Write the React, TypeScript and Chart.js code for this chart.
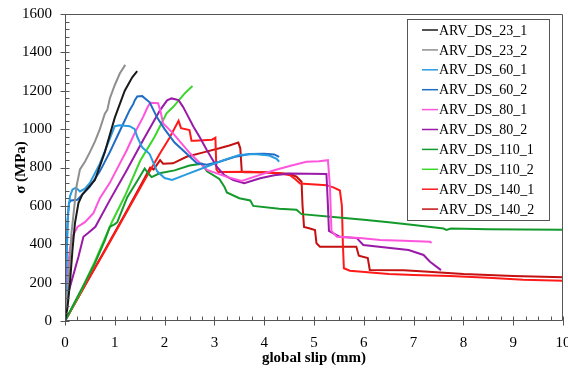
import React, { useEffect, useRef } from "react";
import { Chart, registerables } from "chart.js";

Chart.register(...registerables);

const seriesNames = [
  "ARV_DS_23_1", "ARV_DS_23_2", "ARV_DS_60_1", "ARV_DS_60_2", "ARV_DS_80_1",
  "ARV_DS_80_2", "ARV_DS_110_1", "ARV_DS_110_2", "ARV_DS_140_1", "ARV_DS_140_2",
];
const seriesColors = [
  "#1a1a1a", "#8f8f8f", "#2a9be0", "#1f6cc4", "#ff55dd",
  "#9a1aa8", "#149a2c", "#3cd62a", "#ff1a1a", "#c41010",
];

const xTicks = [0, 1, 2, 3, 4, 5, 6, 7, 8, 9, 10];
const yTicks = [0, 200, 400, 600, 800, 1000, 1200, 1400, 1600];

const slip23_1 = [0, 0.05, 0.1, 0.15, 0.2, 0.27, 0.35, 0.45, 0.6, 0.8, 1.0, 1.2, 1.35, 1.45];
const stress23_1 = [0, 70, 200, 370, 510, 615, 660, 690, 735, 880, 1060, 1200, 1270, 1302];

const slip23_2 = [0, 0.04, 0.07, 0.13, 0.23, 0.3, 0.4, 0.5, 0.6, 0.7, 0.8, 0.85, 0.9, 1.0, 1.1, 1.21];
const stress23_2 = [0, 120, 200, 458, 700, 790, 830, 880, 935, 1000, 1080, 1100, 1160, 1230, 1290, 1335];

const slip60_1 = [0, 0.03, 0.06, 0.1, 0.15, 0.22, 0.3, 0.4, 0.5, 0.7, 0.9, 1.0, 1.1, 1.3, 1.4, 1.45, 1.55, 1.7, 1.85, 2.0, 2.15, 2.4, 2.8, 3.2, 3.5, 3.8, 4.1, 4.25, 4.3];
const stress60_1 = [0, 300, 560, 650, 685, 695, 675, 690, 720, 820, 950, 1015, 1020, 1015, 1000, 960, 905, 870, 780, 745, 735, 760, 800, 840, 865, 870, 862, 845, 830];

const slip60_2 = [0, 0.02, 0.05, 0.08, 0.12, 0.25, 0.35, 0.5, 0.7, 0.9, 1.1, 1.3, 1.37, 1.4, 1.45, 1.55, 1.7, 1.85, 2.0, 2.2, 2.45, 2.65, 2.85, 3.1, 3.4, 3.7, 4.0, 4.2, 4.3];
const stress60_2 = [0, 250, 520, 615, 628, 632, 660, 700, 780, 880, 990, 1100, 1130, 1150, 1170, 1172, 1140, 1060, 1000, 930, 870, 822, 815, 830, 855, 870, 872, 868, 855];

const slip80_1 = [0, 0.05, 0.1, 0.15, 0.25, 0.4, 0.57, 0.7, 0.9, 1.1, 1.24, 1.4, 1.57, 1.65, 1.71, 1.87, 1.92, 1.97, 2.17, 2.51, 2.85, 3.25, 3.55, 3.9, 4.2, 4.55, 4.85, 5.1, 5.28, 5.32, 5.35, 5.46, 5.92, 6.33, 6.8, 7.33, 7.36];
const stress80_1 = [0, 250, 380, 440, 490, 515, 562, 640, 720, 820, 890, 980, 1064, 1110, 1137, 1135, 1090, 1030, 978, 874, 787, 751, 730, 760, 786, 810, 830, 832, 838, 700, 470, 439, 432, 422, 418, 413, 406];

const slip80_2 = [0, 0.07, 0.27, 0.37, 0.47, 0.61, 0.9, 1.24, 1.57, 1.91, 2.05, 2.14, 2.28, 2.37, 2.44, 2.58, 2.7, 2.85, 3.05, 3.2, 3.38, 3.6, 3.92, 4.2, 4.52, 5.25, 5.28, 5.3, 5.4, 5.52, 5.86, 5.99, 6.53, 6.9, 7.2, 7.33, 7.55];
const stress80_2 = [0, 150, 335, 439, 460, 491, 630, 786, 943, 1099, 1150, 1160, 1151, 1116, 1082, 1012, 960, 890, 803, 760, 734, 718, 744, 760, 769, 766, 600, 470, 455, 439, 432, 396, 380, 370, 344, 309, 265];

const slip110_1 = [0, 0.2, 0.4, 0.6, 0.8, 0.9, 1.0, 1.05, 1.25, 1.45, 1.6, 1.67, 1.74, 1.9, 2.2, 2.5, 2.75, 2.85, 3.1, 3.2, 3.25, 3.5, 3.72, 3.78, 4.3, 4.65, 4.75, 5.5, 6.0, 6.5, 7.0, 7.6, 7.66, 7.75, 8.5, 9.2, 10];
const stress110_1 = [0, 100, 200, 300, 420, 490, 505, 515, 645, 730, 795, 770, 750, 770, 785, 810, 820, 780, 740, 700, 670, 640, 628, 600, 585, 580, 557, 540, 528, 515, 500, 482, 475, 482, 478, 477, 476];

const slip110_2 = [0, 0.3, 0.6, 0.95, 1.2, 1.51, 1.8, 2.04, 2.17, 2.4, 2.56];
const stress110_2 = [0, 145, 310, 520, 650, 835, 960, 1082, 1115, 1185, 1225];

const slip140_1 = [0, 0.4, 0.8, 1.2, 1.6, 1.9, 2.1, 2.28, 2.33, 2.5, 2.54, 2.6, 2.95, 3.02, 3.04, 3.08, 3.7, 4.3, 4.52, 4.62, 4.72, 5.25, 5.4, 5.52, 5.56, 5.58, 5.6, 5.72, 6.5, 7.0, 7.73, 8.5, 9.2, 10];
const stress140_1 = [0, 185, 365, 550, 735, 870, 955, 1043, 1005, 995, 940, 940, 945, 955, 790, 776, 778, 770, 760, 740, 717, 708, 695, 680, 600, 400, 275, 262, 245, 240, 235, 225, 215, 210];

const slip140_2 = [0, 0.4, 0.8, 1.2, 1.6, 1.71, 1.78, 1.91, 1.97, 2.17, 2.44, 2.8, 3.1, 3.3, 3.48, 3.52, 3.55, 3.6, 4.0, 4.5, 4.65, 4.75, 4.77, 4.8, 4.9, 5.02, 5.05, 5.12, 5.85, 5.9, 6.08, 6.12, 6.8, 7.3, 8.0, 9.0, 10];
const stress140_2 = [0, 185, 370, 555, 745, 800, 790, 838, 820, 822, 856, 880, 900, 915, 930, 900, 778, 775, 775, 768, 752, 726, 600, 490, 483, 474, 405, 387, 387, 340, 328, 266, 264, 257, 245, 235, 228];

const slips = [slip23_1, slip23_2, slip60_1, slip60_2, slip80_1, slip80_2, slip110_1, slip110_2, slip140_1, slip140_2];
const stresses = [stress23_1, stress23_2, stress60_1, stress60_2, stress80_1, stress80_2, stress110_1, stress110_2, stress140_1, stress140_2];

const FONT = "'Liberation Serif', 'Times New Roman', serif";

const framePlugin = {
  id: "frameTicks",
  afterDatasetsDraw(chart: any) {
    const { ctx, chartArea, scales } = chart;
    const { left, right, top, bottom } = chartArea;
    const xs = scales.x;
    const ys = scales.y;
    ctx.save();
    ctx.strokeStyle = "#555555";
    ctx.lineWidth = 1;
    const L = Math.round(left) + 0.5;
    const R = Math.round(right) - 0.5;
    const T = Math.round(top) + 0.5;
    const B = Math.round(bottom) - 0.5;
    ctx.beginPath();
    ctx.moveTo(L, T); ctx.lineTo(R, T); ctx.lineTo(R, B); ctx.lineTo(L, B); ctx.closePath();
    for (let v = 0; v <= 1600; v += 40) {
      const py = Math.round(ys.getPixelForValue(v)) + 0.5;
      const major = v % 200 === 0;
      ctx.moveTo(major ? L - 5 : L, py);
      ctx.lineTo(L + 4, py);
    }
    for (let i = 0; i <= 40; i++) {
      const v = i * 0.25;
      const px = Math.round(xs.getPixelForValue(v)) + 0.5;
      const major = i % 4 === 0;
      ctx.moveTo(px, B - 4);
      ctx.lineTo(px, major ? B + 5 : B);
    }
    ctx.stroke();
    ctx.restore();
  },
};

const legendPlugin = {
  id: "boxLegend",
  afterDraw(chart: any) {
    const { ctx } = chart;
    const bx = 407.5, by = 19.5, bw = 142, bh = 201;
    ctx.save();
    ctx.fillStyle = "#ffffff";
    ctx.fillRect(bx, by, bw, bh);
    ctx.strokeStyle = "#555555";
    ctx.lineWidth = 1;
    ctx.strokeRect(bx, by, bw, bh);
    ctx.font = `14px ${FONT}`;
    ctx.textBaseline = "middle";
    ctx.textAlign = "left";
    seriesNames.forEach((name, i) => {
      const yy = 30 + i * 19.9;
      ctx.strokeStyle = seriesColors[i];
      ctx.lineWidth = 1.5;
      ctx.beginPath();
      ctx.moveTo(422, yy);
      ctx.lineTo(438, yy);
      ctx.stroke();
      ctx.fillStyle = "#000000";
      ctx.fillText(name, 439, yy + 1);
    });
    ctx.restore();
  },
};

export default function App() {
  const canvasRef = useRef<HTMLCanvasElement | null>(null);

  useEffect(() => {
    document.body.style.margin = "0";
    const canvas = canvasRef.current;
    if (!canvas) return;
    const datasets = seriesNames.map((name, i) => ({
      label: name,
      data: slips[i].map((s, j) => ({ x: s, y: stresses[i][j] })),
      borderColor: seriesColors[i],
      backgroundColor: seriesColors[i],
      borderWidth: 2,
      pointRadius: 0,
      tension: 0,
      fill: false,
    }));
    const chart = new Chart(canvas, {
      type: "line",
      data: { datasets },
      plugins: [framePlugin, legendPlugin],
      options: {
        animation: false,
        responsive: false,
        maintainAspectRatio: false,
        layout: { padding: { top: 14, right: 5, left: 0, bottom: 0 } },
        plugins: { legend: { display: false }, tooltip: { enabled: false } },
        scales: {
          x: {
            type: "linear",
            min: 0,
            max: 10,
            afterFit: (s: any) => { s.height = 49; s.paddingLeft = 0; s.paddingRight = 0; },
            afterBuildTicks: (s: any) => { s.ticks = xTicks.map((v) => ({ value: v })); },
            grid: { display: false, drawTicks: false },
            border: { display: false },
            ticks: { color: "#000", padding: 13, font: { family: FONT, size: 15 }, maxRotation: 0, callback: (v: any) => String(v) },
            title: {
              display: true,
              text: "global slip (mm)",
              color: "#000",
              font: { family: FONT, size: 15, weight: "bold" },
              padding: { top: 0, bottom: 3 },
            },
          },
          y: {
            type: "linear",
            min: 0,
            max: 1600,
            afterFit: (s: any) => { s.width = 65; s.paddingTop = 0; s.paddingBottom = 0; },
            afterBuildTicks: (s: any) => { s.ticks = yTicks.map((v) => ({ value: v })); },
            grid: { display: false, drawTicks: false },
            border: { display: false },
            ticks: { color: "#000", padding: 13, font: { family: FONT, size: 15 }, callback: (v: any) => String(v) },
            title: {
              display: true,
              text: "σ (MPa)",
              color: "#000",
              font: { family: FONT, size: 15, weight: "bold" },
              padding: { top: 12, bottom: 0 },
            },
          },
        },
      } as any,
    });
    return () => chart.destroy();
  }, []);

  return (
    <div style={{ width: 568, height: 370 }}>
      <canvas ref={canvasRef} width={568} height={370} />
    </div>
  );
}
